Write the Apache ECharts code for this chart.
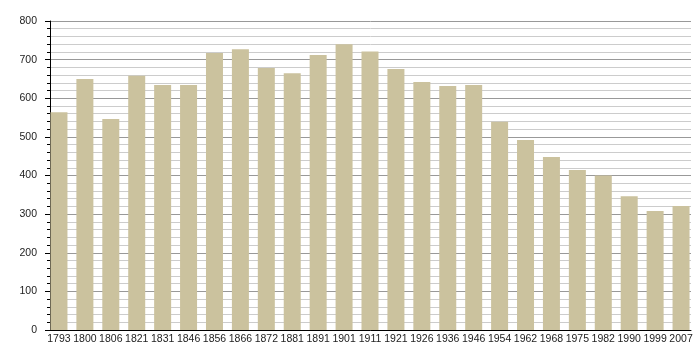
<!DOCTYPE html>
<html><head><meta charset="utf-8">
<script src="https://cdn.jsdelivr.net/npm/echarts@6/dist/echarts.min.js"></script>
<style>html,body{margin:0;padding:0;background:#fff}#c{width:700px;height:360px}</style>
</head><body><div id="c"></div>
<script>
var years = ['1793','1800','1806','1821','1831','1846','1856','1866','1872','1881','1891','1901','1911','1921','1926','1936','1946','1954','1962','1968','1975','1982','1990','1999','2007'];
var population = [564,650,546,658,634,634,717,727,678,665,712,740,721,676,642,632,634,539,492,448,414,400,346,308,321];
var yTicks = [0,100,200,300,400,500,600,700,800];

var font = {fontFamily:'"Liberation Sans", Arial, sans-serif', fontSize:10.5, color:'#222'};
var chart = echarts.init(document.getElementById('c'), null, {renderer:'canvas'});
chart.setOption({
  animation:false,
  backgroundColor:'#fff',
  grid:[
    {left:50, right:9, top:21, bottom:30, containLabel:false},
    {left:46, right:6, top:21, bottom:30, containLabel:false}
  ],
  xAxis:[
    {gridIndex:0, type:'category', data:years, boundaryGap:true,
     axisLine:{show:true, lineStyle:{color:'#000', width:1}}, axisTick:{show:false}, axisLabel:{show:false}, splitLine:{show:false}},
    {gridIndex:1, type:'category', data:years, boundaryGap:true,
     axisLine:{show:false}, axisTick:{show:false},
     axisLabel:Object.assign({interval:0, margin:4}, font), splitLine:{show:false}}
  ],
  yAxis:[
    {gridIndex:0, type:'value', min:yTicks[0], max:yTicks[yTicks.length-1], interval:100,
     axisLine:{show:true, lineStyle:{color:'#000', width:1}},
     axisTick:{show:true, length:5, lineStyle:{color:'#000'}},
     minorTick:{show:true, splitNumber:5, length:3, lineStyle:{color:'#000'}},
     axisLabel:Object.assign({margin:13}, font),
     splitLine:{show:true, lineStyle:{color:'#999', width:1}},
     minorSplitLine:{show:true, lineStyle:{color:'#ccc', width:1}}},
    {gridIndex:1, type:'value', min:yTicks[0], max:yTicks[yTicks.length-1], interval:100, show:false,
     splitLine:{show:false}}
  ],
  series:[{
    type:'bar', xAxisIndex:1, yAxisIndex:1, data:population, barWidth:17,
    itemStyle:{color:'#cbc29e'}, z:3
  }]
});
</script></body></html>
